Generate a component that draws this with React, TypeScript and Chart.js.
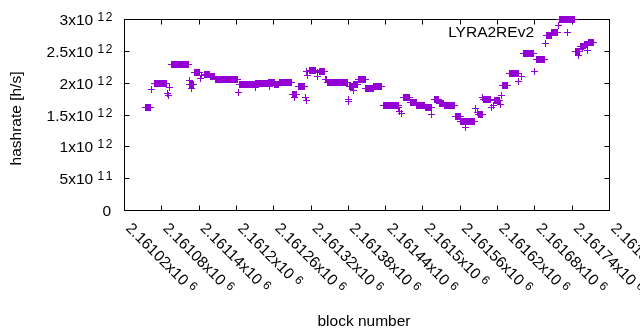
import React, { useEffect, useRef } from 'react';
import { Chart, registerables } from 'chart.js';

Chart.register(...registerables);

const seriesLabel = 'LYRA2REv2';
const xAxisTitle = 'block number';
const yAxisTitle = 'hashrate [h/s]';

// Runs of constant hashrate (one point per block inside a run)
const runStartBlock = [
  2161054, 2161064, 2161068, 2161089, 2161090, 2161092, 2161095, 2161124, 2161125, 2161128,
  2161133, 2161142, 2161144, 2161148, 2161158, 2161166, 2161203, 2161205, 2161230, 2161231,
  2161252, 2161253, 2161262, 2161270, 2161290, 2161294, 2161300, 2161311, 2161312, 2161313,
  2161314, 2161318, 2161330, 2161331, 2161334, 2161343, 2161344, 2161346, 2161380, 2161381,
  2161382, 2161388, 2161389, 2161396, 2161408, 2161421, 2161436, 2161461, 2161463, 2161465,
  2161469, 2161480, 2161490, 2161504, 2161514, 2161519, 2161526, 2161534, 2161552, 2161561,
  2161569, 2161571, 2161585, 2161587, 2161589, 2161596, 2161597, 2161611, 2161613, 2161615,
  2161624, 2161626, 2161628, 2161639, 2161653, 2161658, 2161661, 2161680, 2161683, 2161697,
  2161698, 2161707, 2161718, 2161719, 2161745, 2161750, 2161753, 2161756, 2161759, 2161764,
  2161766,
];
const runEndBlock = [
  2161062, 2161064, 2161088, 2161089, 2161090, 2161092, 2161123, 2161124, 2161131, 2161128,
  2161141, 2161142, 2161144, 2161157, 2161165, 2161201, 2161203, 2161229, 2161230, 2161251,
  2161261, 2161253, 2161268, 2161289, 2161296, 2161294, 2161309, 2161311, 2161312, 2161313,
  2161314, 2161327, 2161330, 2161331, 2161342, 2161343, 2161345, 2161378, 2161380, 2161381,
  2161387, 2161388, 2161394, 2161407, 2161420, 2161433, 2161460, 2161461, 2161463, 2161465,
  2161478, 2161489, 2161502, 2161513, 2161514, 2161525, 2161533, 2161551, 2161560, 2161570,
  2161569, 2161583, 2161585, 2161587, 2161595, 2161596, 2161609, 2161611, 2161613, 2161623,
  2161624, 2161626, 2161636, 2161654, 2161653, 2161658, 2161678, 2161680, 2161695, 2161697,
  2161706, 2161717, 2161718, 2161744, 2161752, 2161750, 2161758, 2161756, 2161765, 2161764,
  2161774,
];
const runHashrate = [
  1.62e12, 1.90e12, 2.00e12, 1.84e12, 1.80e12, 1.93e12, 2.29e12, 2.04e12, 1.98e12, 1.92e12,
  2.17e12, 2.07e12, 2.12e12, 2.14e12, 2.10e12, 2.055e12, 1.85e12, 1.98e12, 1.93e12, 2.00e12,
  2.015e12, 1.94e12, 1.975e12, 2.01e12, 1.82e12, 1.77e12, 1.94e12, 1.77e12, 1.73e12, 2.19e12,
  2.125e12, 2.195e12, 2.17e12, 2.11e12, 2.19e12, 2.05e12, 2.06e12, 2.01e12, 1.75e12, 1.71e12,
  1.945e12, 1.88e12, 1.975e12, 2.055e12, 1.92e12, 1.945e12, 1.655e12, 1.61e12, 1.56e12, 1.52e12,
  1.77e12, 1.70e12, 1.65e12, 1.625e12, 1.515e12, 1.745e12, 1.68e12, 1.65e12, 1.48e12, 1.405e12,
  1.31e12, 1.405e12, 1.595e12, 1.54e12, 1.515e12, 1.78e12, 1.75e12, 1.62e12, 1.65e12, 1.72e12,
  1.665e12, 1.81e12, 1.96e12, 2.15e12, 2.02e12, 2.11e12, 2.465e12, 2.18e12, 2.375e12, 2.62e12,
  2.75e12, 2.80e12, 2.91e12, 3.00e12, 2.50e12, 2.44e12, 2.58e12, 2.55e12, 2.61e12, 2.515e12,
  2.64e12,
];

const xMin = 2161020;
const xMax = 2161800;
const xTickValues = [
  2161020, 2161080, 2161140, 2161200, 2161260, 2161320, 2161380,
  2161440, 2161500, 2161560, 2161620, 2161680, 2161740, 2161800,
];
const xTickMantissas = [
  '2.16102', '2.16108', '2.16114', '2.1612', '2.16126', '2.16132', '2.16138',
  '2.16144', '2.1615', '2.16156', '2.16162', '2.16168', '2.16174', '2.1618',
];
const xTickExponent = '6';

const yMin = 0;
const yMax = 3e12;
const yTickValues = [0, 5e11, 1e12, 1.5e12, 2e12, 2.5e12, 3e12];
const yTickMantissas = ['0', '5', '1', '1.5', '2', '2.5', '3'];
const yTickExponents = ['', '11', '12', '12', '12', '12', '12'];

const PURPLE = '#9400D3';
const FONT_FAMILY = '"Liberation Sans", Arial, sans-serif';
const MAIN_FONT = `15.5px ${FONT_FAMILY}`;
const SUP_FONT = `12px ${FONT_FAMILY}`;
const SUP_SPACING = 1.5;
const SUP_GAP = 4.3;
const SUP_RAISE = 4;
const TICK_LEN = 5;
const CROSS_SIZE = 7;

function makeCrossImage(): HTMLCanvasElement {
  const c = document.createElement('canvas');
  c.width = CROSS_SIZE;
  c.height = CROSS_SIZE;
  const g = c.getContext('2d')!;
  const mid = Math.floor(CROSS_SIZE / 2);
  g.fillStyle = PURPLE;
  g.fillRect(mid, 0, 1, CROSS_SIZE);
  g.fillRect(0, mid, CROSS_SIZE, 1);
  return c;
}

function supWidth(ctx: CanvasRenderingContext2D, text: string) {
  ctx.font = SUP_FONT;
  let w = 0;
  const chars = Array.from(text);
  chars.forEach((ch, i) => {
    w += ctx.measureText(ch).width + (i < chars.length - 1 ? SUP_SPACING : 0);
  });
  return w;
}

function drawSup(ctx: CanvasRenderingContext2D, text: string, x: number, y: number) {
  ctx.font = SUP_FONT;
  ctx.textAlign = 'left';
  let cx = x;
  for (const ch of Array.from(text)) {
    ctx.fillText(ch, cx, y);
    cx += ctx.measureText(ch).width + SUP_SPACING;
  }
}

function makeFramePlugin(crossImg: HTMLCanvasElement) {
  return {
    id: 'gnuplotFrame',
    beforeDatasetsDraw(chart: any) {
      const { ctx, chartArea } = chart;
      const xs = chart.scales.x;
      const ys = chart.scales.y;
      ctx.save();
      ctx.strokeStyle = '#000';
      ctx.lineWidth = 1;
      ctx.strokeRect(chartArea.left, chartArea.top, chartArea.right - chartArea.left, chartArea.bottom - chartArea.top);
      ctx.beginPath();
      xTickValues.forEach((v) => {
        const px = Math.round(xs.getPixelForValue(v) - 0.5) + 0.5;
        ctx.moveTo(px, chartArea.bottom);
        ctx.lineTo(px, chartArea.bottom - TICK_LEN);
        ctx.moveTo(px, chartArea.top);
        ctx.lineTo(px, chartArea.top + TICK_LEN);
      });
      yTickValues.forEach((v) => {
        const py = Math.round(ys.getPixelForValue(v) - 0.5) + 0.5;
        ctx.moveTo(chartArea.left, py);
        ctx.lineTo(chartArea.left + TICK_LEN, py);
        ctx.moveTo(chartArea.right, py);
        ctx.lineTo(chartArea.right - TICK_LEN, py);
      });
      ctx.stroke();
      ctx.restore();
      // crisp, pixel-snapped "+" marks like gnuplot
      ctx.imageSmoothingEnabled = false;
    },
    afterDatasetsDraw(chart: any) {
      chart.ctx.imageSmoothingEnabled = true;
    },
    afterDraw(chart: any) {
      const { ctx, chartArea } = chart;
      const xs = chart.scales.x;
      const ys = chart.scales.y;
      ctx.save();
      ctx.fillStyle = '#000';
      ctx.textBaseline = 'alphabetic';

      // y tick labels
      const yRight = chartArea.left - 12.2;
      yTickValues.forEach((v, i) => {
        const py = ys.getPixelForValue(v);
        const base = py + 5.5;
        const exp = yTickExponents[i];
        if (!exp) {
          ctx.font = MAIN_FONT;
          ctx.textAlign = 'right';
          ctx.fillText(yTickMantissas[i], yRight - 1.3, base);
          return;
        }
        const sw = supWidth(ctx, exp);
        const supX = yRight - sw;
        drawSup(ctx, exp, supX, base - SUP_RAISE);
        ctx.font = MAIN_FONT;
        ctx.textAlign = 'right';
        ctx.fillText(yTickMantissas[i] + 'x10', supX - SUP_GAP, base);
      });

      // x tick labels, rotated clockwise, starting at the tick
      xTickValues.forEach((v, i) => {
        const px = xs.getPixelForValue(v);
        ctx.save();
        ctx.translate(px + 0.5, chartArea.bottom + 18.5);
        ctx.rotate(Math.PI / 4);
        ctx.font = MAIN_FONT;
        ctx.textAlign = 'left';
        const main = xTickMantissas[i] + 'x10';
        ctx.fillText(main, 0, 0);
        const w = ctx.measureText(main).width;
        drawSup(ctx, xTickExponent, w + SUP_GAP, -SUP_RAISE);
        ctx.restore();
      });

      // axis titles
      ctx.font = MAIN_FONT;
      ctx.textAlign = 'center';
      ctx.fillText(xAxisTitle, 364, 326);
      ctx.save();
      ctx.translate(21.3, 118.5);
      ctx.rotate(-Math.PI / 2);
      ctx.fillText(yAxisTitle, 0, 0);
      ctx.restore();

      // key
      ctx.textAlign = 'right';
      ctx.fillText(seriesLabel, 534, 37.3);
      ctx.imageSmoothingEnabled = false;
      ctx.drawImage(crossImg, 564, 29);
      ctx.restore();
    },
  };
}

export default function App() {
  const canvasRef = useRef<HTMLCanvasElement | null>(null);

  useEffect(() => {
    const canvas = canvasRef.current;
    if (!canvas) return;
    const points: { x: number; y: number }[] = [];
    runStartBlock.forEach((start, i) => {
      for (let b = start; b <= runEndBlock[i]; b++) {
        points.push({ x: b, y: runHashrate[i] });
      }
    });
    const crossImg = makeCrossImage();

    const chart = new Chart(canvas, {
      type: 'scatter',
      data: {
        datasets: [
          {
            label: seriesLabel,
            data: points,
            pointStyle: crossImg as any,
            pointRadius: 3.5,
            pointHoverRadius: 3.5,
            pointBorderWidth: 1,
            borderColor: PURPLE,
            backgroundColor: PURPLE,
            showLine: false,
            clip: false as any,
          },
        ],
      },
      options: {
        responsive: false,
        animation: false,
        events: [],
        layout: { padding: { left: 124.5, top: 19.5, right: 30.5, bottom: 119.5 } },
        scales: {
          x: { type: 'linear', min: xMin, max: xMax, display: false },
          y: { type: 'linear', min: yMin, max: yMax, display: false },
        },
        plugins: {
          legend: { display: false },
          tooltip: { enabled: false },
        },
      },
      plugins: [makeFramePlugin(crossImg)],
    });
    return () => chart.destroy();
  }, []);

  return (
    <div style={{ position: 'absolute', left: 0, top: 0, width: 640, height: 330, background: '#fff' }}>
      <canvas ref={canvasRef} width={640} height={330} style={{ display: 'block' }} />
    </div>
  );
}
